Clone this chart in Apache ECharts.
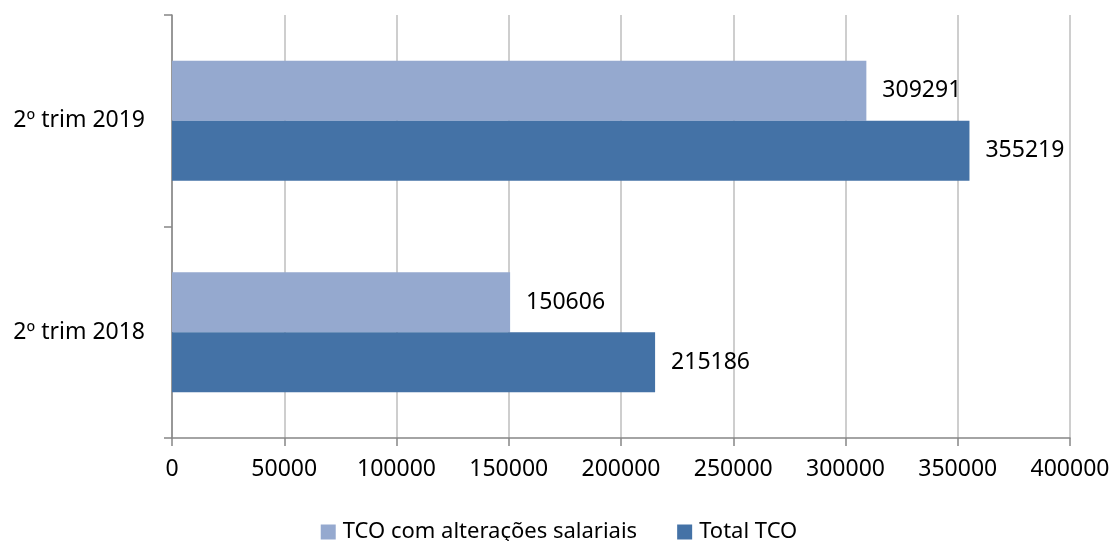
<!DOCTYPE html>
<html>
<head>
<meta charset="utf-8">
<script src="https://cdn.jsdelivr.net/npm/echarts@6/dist/echarts.min.js"></script>
<style>
html,body{margin:0;padding:0;background:#fff;}
#c{width:1118px;height:541px;}
</style>
</head>
<body>
<div id="c"></div>
<script>
const categories = ['2º trim 2018', '2º trim 2019'];
const seriesNames = ['TCO com alterações salariais', 'Total TCO'];
const tcoSalariais = [150606, 309291];
const totalTCO = [215186, 355219];
const xTicks = { min: 0, max: 400000, interval: 50000 };

const FONT = '"Noto Sans", sans-serif';
const chart = echarts.init(document.getElementById('c'), null, { renderer: 'canvas' });

const labelCfg = {
  show: true,
  position: 'right',
  distance: 16,
  color: '#000',
  fontSize: 23,
  fontFamily: FONT
};

chart.setOption({
  animation: false,
  backgroundColor: '#fff',
  grid: { left: 172, right: 48, top: 15, bottom: 103, containLabel: false },
  legend: {
    data: seriesNames,
    top: 516,
    left: 'center',
    itemWidth: 15,
    itemHeight: 15,
    itemGap: 40,
    icon: 'rect',
    textStyle: { fontSize: 22, fontFamily: FONT, color: '#000', padding: [0, 0, 0, 2] }
  },
  xAxis: {
    type: 'value',
    min: xTicks.min,
    max: xTicks.max,
    interval: xTicks.interval,
    axisLine: { show: true, lineStyle: { color: '#868686', width: 1.5 } },
    axisTick: { show: true, length: 8, lineStyle: { color: '#868686', width: 1.5 } },
    axisLabel: { margin: 20, fontSize: 23, fontFamily: FONT, color: '#000', formatter: v => String(v) },
    splitLine: { show: true, lineStyle: { color: '#BEBEBE', width: 1.5 } }
  },
  yAxis: {
    type: 'category',
    data: categories,
    axisLine: { show: true, lineStyle: { color: '#868686', width: 1.5 } },
    axisTick: { show: true, length: 8, alignWithLabel: false, lineStyle: { color: '#868686', width: 1.5 } },
    axisLabel: { margin: 27, fontSize: 23, fontFamily: FONT, color: '#000' },
    splitLine: { show: false }
  },
  series: [
    {
      name: seriesNames[0],
      type: 'bar',
      data: tcoSalariais,
      barWidth: 60,
      barGap: '0%',
      itemStyle: { color: '#95A9CF' },
      label: labelCfg
    },
    {
      name: seriesNames[1],
      type: 'bar',
      data: totalTCO,
      barWidth: 60,
      barGap: '0%',
      itemStyle: { color: '#4472A6' },
      label: labelCfg
    }
  ]
});
</script>
</body>
</html>
